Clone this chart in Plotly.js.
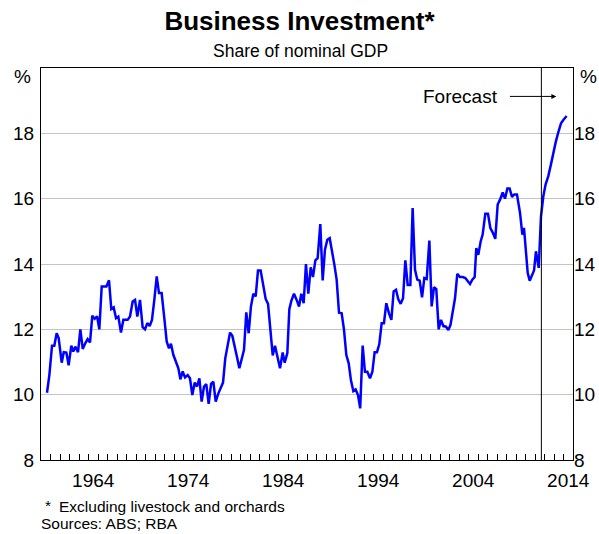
<!DOCTYPE html>
<html>
<head>
<meta charset="utf-8">
<script src="https://cdn.plot.ly/plotly-3.0.1.min.js"></script>
<style>
  html, body { margin: 0; padding: 0; background: #fff; }
  #chart { width: 599px; height: 534px; }
</style>
</head>
<body>
<div id="chart"></div>
<script>
// Quarterly share of nominal GDP (%), decimal year
const years = [
  1959.63,1959.88,1960.16,1960.40,1960.65,1960.86,1961.18,1961.39,1961.67,1961.91,
  1962.19,1962.40,1962.61,1962.90,1963.14,1963.39,1963.67,1963.91,1964.16,1964.40,
  1964.65,1964.90,1965.14,1965.39,1965.64,1965.88,1966.16,1966.40,1966.65,1966.90,
  1967.14,1967.42,1967.67,1967.90,1968.12,1968.37,1968.65,1968.90,1969.14,1969.42,
  1969.70,1969.95,1970.19,1970.44,1970.68,1970.93,1971.18,1971.42,1971.70,1971.98,
  1972.23,1972.47,1972.68,1972.93,1973.21,1973.46,1973.67,1973.91,1974.16,1974.44,
  1974.68,1974.93,1975.18,1975.42,1975.67,1975.91,1976.16,1976.40,1976.65,1976.90,
  1977.14,1977.39,1977.67,1977.91,1978.16,1978.40,1978.65,1978.90,1979.14,1979.39,
  1979.63,1979.88,1980.12,1980.37,1980.61,1980.86,1981.10,1981.35,1981.60,1981.84,
  1982.12,1982.37,1982.65,1982.90,1983.14,1983.39,1983.63,1983.88,1984.16,1984.44,
  1984.65,1984.93,1985.14,1985.35,1985.63,1985.91,1986.16,1986.40,1986.65,1986.89,
  1987.14,1987.39,1987.63,1987.88,1988.12,1988.40,1988.65,1988.89,1989.14,1989.39,
  1989.63,1989.88,1990.12,1990.37,1990.65,1990.89,1991.14,1991.39,1991.63,1991.88,
  1992.12,1992.37,1992.60,1992.86,1993.10,1993.35,1993.63,1993.88,1994.12,1994.37,
  1994.61,1994.86,1995.10,1995.35,1995.63,1995.88,1996.12,1996.37,1996.61,1996.86,
  1997.11,1997.35,1997.60,1997.88,1998.12,1998.37,1998.61,1998.86,1999.11,1999.35,
  1999.60,1999.88,2000.12,2000.37,2000.61,2000.86,2001.10,2001.35,2001.63,2001.88,
  2002.10,2002.33,2002.58,2002.82,2003.10,2003.39,2003.67,2003.91,2004.16,2004.40,
  2004.65,2004.82,2005.03,2005.28,2005.49,2005.77,2006.05,2006.30,2006.54,2006.82,
  2007.07,2007.32,2007.60,2007.84,2008.09,2008.33,2008.58,2008.82,2009.10,2009.42,
  2009.67,2009.84,2010.05,2010.23,2010.44,2010.65,2010.90,2011.10,2011.39,2011.63,
  2011.88,2012.12,2012.40,2012.68,2012.93,2013.18,2013.46,2013.74,2013.98,2014.33
];
const investment = [
  10.06,10.6,11.5,11.5,11.88,11.73,10.98,11.3,11.29,10.9,
  11.5,11.32,11.47,11.3,12.0,11.4,11.58,11.7,11.6,12.42,
  12.32,12.4,12.0,13.31,13.31,13.31,13.5,12.62,12.67,12.34,
  12.39,11.9,12.29,12.29,12.29,12.39,12.85,12.9,12.39,12.9,
  12.07,12.0,12.19,12.1,12.29,12.9,13.62,13.11,13.11,12.34,
  11.63,11.42,11.56,11.22,11.01,10.81,10.47,10.71,10.53,10.6,
  10.5,9.99,10.37,10.25,10.5,9.79,10.25,10.32,9.72,10.33,
  10.4,9.79,10.04,10.22,10.37,11.12,11.5,11.9,11.8,11.5,
  11.15,10.81,11.12,11.37,12.52,11.88,12.7,13.09,13.01,13.8,
  13.8,13.44,12.93,12.78,11.88,11.2,11.5,11.17,10.81,11.29,
  10.98,11.27,12.62,12.87,13.09,12.9,12.7,13.09,12.8,14.0,
  13.09,13.9,13.6,14.11,14.18,15.22,13.5,14.44,14.74,14.79,
  14.44,13.98,13.52,12.51,12.49,12.0,11.21,10.96,10.43,10.11,
  10.16,9.99,9.58,11.5,10.7,10.7,10.5,10.7,11.3,11.3,
  11.55,12.19,12.19,12.8,12.49,12.29,13.16,13.21,12.92,12.78,
  12.95,14.11,13.36,13.36,15.71,13.82,13.52,13.49,12.98,13.57,
  13.54,14.72,12.7,13.29,13.23,12.0,12.29,12.1,12.08,11.98,
  12.13,12.49,12.95,13.7,13.6,13.6,13.57,13.48,13.39,13.52,
  13.6,14.49,14.28,14.69,14.9,15.54,15.54,15.1,14.97,14.77,
  15.82,15.97,16.19,16.0,16.31,16.31,16.05,16.13,16.13,15.57,
  14.9,15.11,14.24,13.73,13.49,13.62,13.8,14.39,13.88,15.46,
  16.08,16.44,16.69,17.05,17.41,17.73,18.04,18.31,18.41,18.53
];
const labelYears = [1964, 1974, 1984, 1994, 2004, 2014];
const yTicks = [8, 10, 12, 14, 16, 18];
const forecastStart = 2011.67;
const xStart = 1959, xEnd = 2015;
const yMin = 8, yMax = 20;

const tickYears = [];
for (let yr = xStart; yr <= xEnd; yr++) tickYears.push(yr);

const font = 'Arial, "Liberation Sans", sans-serif';
const tickSize = 19;

const traces = [
  {
    x: years, y: investment, type: 'scatter', mode: 'lines',
    line: {color: '#0000ff', width: 2.5},
    hoverinfo: 'skip', showlegend: false
  },
  {
    x: [xStart], y: [null], type: 'scatter', mode: 'lines',
    xaxis: 'x2', yaxis: 'y2', hoverinfo: 'skip', showlegend: false
  }
];

const layout = {
  width: 599, height: 534,
  margin: {l: 41, r: 26, t: 68, b: 74},
  paper_bgcolor: '#fff', plot_bgcolor: '#fff',
  font: {family: font, color: '#000', size: tickSize},
  title: {
    text: '<b>Business Investment*</b>',
    font: {family: font, size: 26, color: '#000'},
    x: 0.5, xref: 'container', xanchor: 'center',
    y: 1 - 21 / 534, yref: 'container', yanchor: 'middle'
  },
  xaxis: {
    range: [xStart, xEnd],
    tickvals: labelYears.map(v => v + 0.5),
    ticktext: labelYears.map(String),
    ticks: '', showgrid: false, zeroline: false,
    showline: true, linecolor: '#000', linewidth: 1, mirror: true,
    tickfont: {family: font, size: tickSize, color: '#000'},
    ticklabelstandoff: 3,
    fixedrange: true
  },
  xaxis2: {
    range: [xStart, xEnd], overlaying: 'x', anchor: 'y', side: 'bottom',
    tickvals: tickYears, ticks: 'inside', ticklen: 6, tickcolor: '#000', tickwidth: 1,
    showticklabels: false, showgrid: false, zeroline: false, showline: false
  },
  yaxis: {
    range: [yMin, yMax], tickvals: yTicks, ticktext: yTicks.map(String),
    ticks: '', showgrid: true, gridcolor: '#c4c4c4', gridwidth: 1, zeroline: false,
    showline: true, linecolor: '#000', linewidth: 1, mirror: true,
    tickfont: {family: font, size: tickSize, color: '#000'},
    ticklabelstandoff: 2,
    fixedrange: true
  },
  yaxis2: {
    range: [yMin, yMax], overlaying: 'y', anchor: 'x', side: 'right',
    tickvals: yTicks, ticktext: yTicks.map(String), ticks: '',
    showgrid: false, zeroline: false, showline: false,
    tickfont: {family: font, size: tickSize, color: '#000'}
  },
  shapes: [
    {type: 'line', xref: 'x', yref: 'paper', x0: forecastStart, x1: forecastStart, y0: 0, y1: 1,
     line: {color: '#000', width: 1}}
  ],
  annotations: [
    {text: 'Share of nominal GDP', xref: 'paper', yref: 'paper', x: (300 - 41) / 532, y: (460 - 51) / 392,
     xanchor: 'center', yanchor: 'middle', showarrow: false, font: {family: font, size: 17.5}},
    {text: '%', xref: 'paper', yref: 'paper', x: (22 - 41) / 532, y: (460 - 76) / 392,
     xanchor: 'center', yanchor: 'middle', showarrow: false, font: {family: font, size: tickSize}},
    {text: '%', xref: 'paper', yref: 'paper', x: (588 - 41) / 532, y: (460 - 76) / 392,
     xanchor: 'center', yanchor: 'middle', showarrow: false, font: {family: font, size: tickSize}},
    {text: 'Forecast', xref: 'x', yref: 'y', x: 2007.35, y: 19.13,
     xanchor: 'right', yanchor: 'middle', showarrow: false, font: {family: font, size: tickSize}},
    {text: '', xref: 'x', yref: 'y', x: 2013.25, y: 19.13, axref: 'x', ayref: 'y', ax: 2008.2, ay: 19.13,
     showarrow: true, arrowhead: 2, arrowsize: 1, arrowwidth: 1, arrowcolor: '#000', standoff: 0},
    {text: '*', xref: 'paper', yref: 'paper', x: (43 - 41) / 532, y: (460 - 505) / 392,
     xanchor: 'left', yanchor: 'middle', showarrow: false, font: {family: font, size: 15.5}},
    {text: 'Excluding livestock and orchards', xref: 'paper', yref: 'paper', x: (57 - 41) / 532, y: (460 - 506) / 392,
     xanchor: 'left', yanchor: 'middle', showarrow: false, font: {family: font, size: 15.5}},
    {text: 'Sources: ABS; RBA', xref: 'paper', yref: 'paper', x: (39 - 41) / 532, y: (460 - 523) / 392,
     xanchor: 'left', yanchor: 'middle', showarrow: false, font: {family: font, size: 15.5}}
  ]
};

Plotly.newPlot('chart', traces, layout, {staticPlot: true, displayModeBar: false});
</script>
</body>
</html>
